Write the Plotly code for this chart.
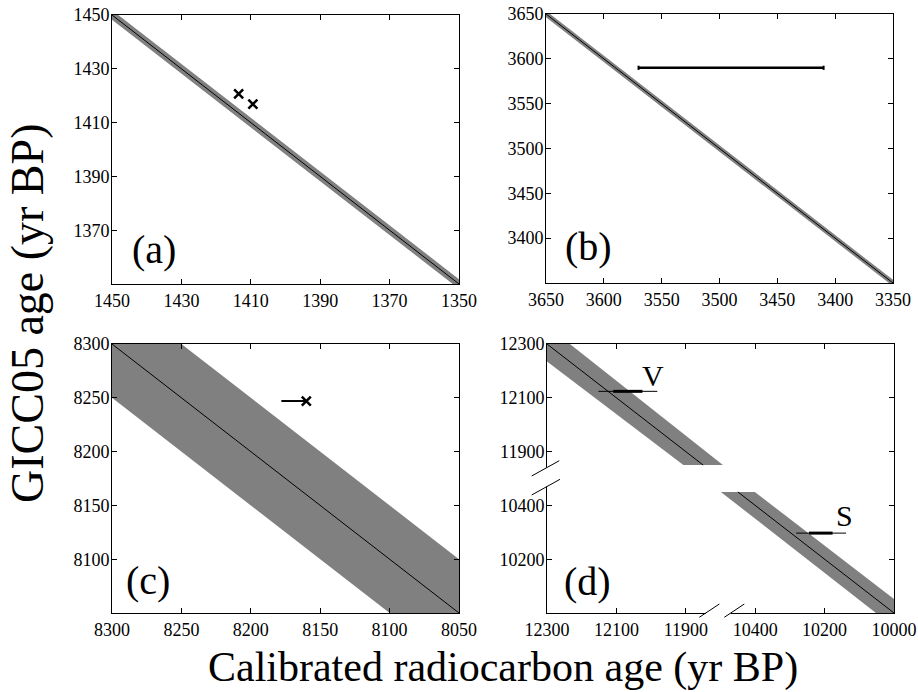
import plotly.graph_objects as go

# ---------------- data ----------------
# Panel (a)
a_band_age = [1450, 1350]
a_band_err = [1.8, 1.8]
a_pts_x = [1413.5, 1409.4]
a_pts_y = [1420.7, 1416.9]
a_xticks = [1450, 1430, 1410, 1390, 1370, 1350]
a_yticks = [1370, 1390, 1410, 1430, 1450]

# Panel (b)
b_band_age = [3650, 3350]
b_band_err = [3.5, 3.5]
b_bar_x = [3570, 3410]
b_bar_y = [3590, 3590]
b_xticks = [3650, 3600, 3550, 3500, 3450, 3400, 3350]
b_yticks = [3400, 3450, 3500, 3550, 3600, 3650]

# Panel (c)
c_band_age = [8300, 8050]
c_band_err = [50, 50]
c_arrow_x = [8178, 8160]
c_arrow_y = [8247, 8247]
c_xticks = [8300, 8250, 8200, 8150, 8100, 8050]
c_yticks = [8100, 8150, 8200, 8250, 8300]

# Panel (d)  (broken axes: 12300-11800 | 10500-10000)
d_band1_age = [12300, 11850]
d_band1_err = [66, 57]
d_band2_age = [10450, 10000]
d_band2_err = [49, 52]
d_V_y = [12124, 12124]
d_V_thin = [12152, 11982]
d_V_thick = [12109, 12025]
d_S_y = [10297, 10297]
d_S_thin = [10282, 10138]
d_S_thick = [10245, 10177]
d_xticks = [12300, 12100, 11900, 10400, 10200, 10000]
d_yticks = [10200, 10400, 11900, 12100, 12300]
d_break_lo, d_break_hi = 10500, 11800

# ---------------- helpers ----------------
def brk(v):
    return v if v <= d_break_lo else v - (d_break_hi - d_break_lo)

def band(ages, errs, f=lambda v: v):
    xs = [f(a + e) for a, e in zip(ages, errs)] + [f(a - e) for a, e in zip(ages[::-1], errs[::-1])]
    ys = [f(a) for a in ages] + [f(a) for a in ages[::-1]]
    return xs + [xs[0]], ys + [ys[0]]

GRAY = "#808080"
FONT = "Liberation Serif"
fig = go.Figure()

def add_band(ages, errs, xa, ya, f=lambda v: v):
    bx, by = band(ages, errs, f)
    fig.add_trace(go.Scatter(x=bx, y=by, fill="toself", fillcolor=GRAY, mode="lines",
                             line=dict(width=0, color=GRAY), xaxis=xa, yaxis=ya, hoverinfo="skip"))
    fig.add_trace(go.Scatter(x=[f(a) for a in ages], y=[f(a) for a in ages], mode="lines",
                             line=dict(width=1, color="black"), xaxis=xa, yaxis=ya))

# (a)
add_band(a_band_age, a_band_err, "x", "y")
fig.add_trace(go.Scatter(x=a_pts_x, y=a_pts_y, mode="markers",
                         marker=dict(symbol="x-thin", size=9, line=dict(width=2.5, color="black")),
                         xaxis="x", yaxis="y"))
# (b)
add_band(b_band_age, b_band_err, "x2", "y2")
fig.add_trace(go.Scatter(x=b_bar_x, y=b_bar_y, mode="lines+markers",
                         line=dict(width=2.5, color="black"),
                         marker=dict(symbol="line-ns", size=3, line=dict(width=2, color="black")),
                         xaxis="x2", yaxis="y2"))
# (c)
add_band(c_band_age, c_band_err, "x3", "y3")
fig.add_trace(go.Scatter(x=c_arrow_x, y=c_arrow_y, mode="lines",
                         line=dict(width=2, color="black"), xaxis="x3", yaxis="y3"))
fig.add_trace(go.Scatter(x=c_arrow_x[-1:], y=c_arrow_y[-1:], mode="markers",
                         marker=dict(symbol="x-thin", size=9, line=dict(width=2.5, color="black")),
                         xaxis="x3", yaxis="y3"))
# (d)
add_band(d_band1_age, d_band1_err, "x4", "y4", brk)
add_band(d_band2_age, d_band2_err, "x4", "y4", brk)
for yv, thin, thick in [(d_V_y, d_V_thin, d_V_thick), (d_S_y, d_S_thin, d_S_thick)]:
    fig.add_trace(go.Scatter(x=[brk(v) for v in thin], y=[brk(v) for v in yv], mode="lines",
                             line=dict(width=1, color="black"), xaxis="x4", yaxis="y4"))
    fig.add_trace(go.Scatter(x=[brk(v) for v in thick], y=[brk(v) for v in yv], mode="lines",
                             line=dict(width=3, color="black"), xaxis="x4", yaxis="y4"))

# ---------------- axes ----------------
def ax(domain, rng, ticks, anchor, f=lambda v: v, standoff=0):
    return dict(domain=domain, range=[f(rng[0]), f(rng[1])], tickvals=[f(t) for t in ticks],
                ticktext=[str(t) for t in ticks], anchor=anchor, automargin=False,
                ticklabeloverflow="allow",
                showline=True, linecolor="black", linewidth=1, mirror="ticks",
                ticks="inside", ticklen=5, tickwidth=1, tickcolor="black",
                showgrid=False, zeroline=False, ticklabelstandoff=standoff,
                tickfont=dict(family=FONT, size=18, color="black"))

W, H = 918, 692

def PX(p):
    return p / W

def PY(p):
    return (H - p) / H

xa_dom = [PX(112), PX(459)]
xb_dom = [PX(546), PX(893)]
xd_dom = [PX(547), PX(894)]
top_a = [PY(284), PY(15)]
top_b = [PY(283), PY(14)]
bot = [PY(613), PY(344)]

XS, YS = 0, -2
fig.update_layout(
    template="none",
    width=W, height=H, margin=dict(l=0, r=0, t=0, b=0, pad=0, autoexpand=False),
    paper_bgcolor="white", plot_bgcolor="white", showlegend=False,
    font=dict(family=FONT, color="black"),
    xaxis=ax(xa_dom, [1450, 1350], a_xticks, "y", standoff=XS),
    yaxis=ax(top_a, [1350, 1450], a_yticks, "x", standoff=YS),
    xaxis2=ax(xb_dom, [3650, 3350], b_xticks, "y2", standoff=XS),
    yaxis2=ax(top_b, [3350, 3650], b_yticks, "x2", standoff=YS),
    xaxis3=ax(xa_dom, [8300, 8050], c_xticks, "y3", standoff=XS),
    yaxis3=ax(bot, [8050, 8300], c_yticks, "x3", standoff=YS),
    xaxis4=ax(xd_dom, [12300, 10000], d_xticks, "y4", brk, standoff=XS),
    yaxis4=ax(bot, [10000, 12300], d_yticks, "x4", brk, standoff=YS),
)

# broken-axis decorations for (d)
shapes = [
    dict(type="line", xref="x4 domain", yref="y4 domain", x0=0, x1=0, y0=0.470, y1=0.541,
         line=dict(color="white", width=3), layer="above"),
    dict(type="line", xref="x4 domain", yref="y4 domain", x0=0.4576, x1=0.5297, y0=0, y1=0,
         line=dict(color="white", width=3), layer="above"),
    dict(type="line", xref="x4 domain", yref="y4 domain", x0=-0.0441, y0=0.5093, x1=0.0354, y1=0.5662,
         line=dict(color="black", width=1), layer="above"),
    dict(type="line", xref="x4 domain", yref="y4 domain", x0=-0.0441, y0=0.4387, x1=0.0375, y1=0.4970,
         line=dict(color="black", width=1), layer="above"),
    dict(type="line", xref="x4 domain", yref="y4 domain", x0=0.4389, y0=-0.016, x1=0.4968, y1=0.0335,
         line=dict(color="black", width=1), layer="above"),
    dict(type="line", xref="x4 domain", yref="y4 domain", x0=0.5110, y0=-0.016, x1=0.5686, y1=0.0335,
         line=dict(color="black", width=1), layer="above"),
]
fig.update_layout(shapes=shapes)

def px_ann(text, x, y, size, angle=0):
    return dict(text=text, x=PX(x), y=PY(y), xref="paper", yref="paper", showarrow=False,
                textangle=angle, xanchor="center", yanchor="middle",
                font=dict(family=FONT, size=size, color="black"))

anns = [
    px_ann("(a)", 153.5, 250, 40),
    px_ann("(b)", 588.3, 246.7, 40),
    px_ann("(c)", 147.5, 580.5, 40),
    px_ann("(d)", 587.3, 581.5, 40),
    px_ann("GICC05 age (yr BP)", 27, 314, 46, -90),
    px_ann("Calibrated radiocarbon age (yr BP)", 503, 667, 42),
    dict(text="V", x=brk(11994), y=brk(12184), xref="x4", yref="y4", showarrow=False,
         xanchor="center", yanchor="middle", font=dict(family=FONT, size=30, color="black")),
    dict(text="S", x=brk(10144), y=brk(10363), xref="x4", yref="y4", showarrow=False,
         xanchor="center", yanchor="middle", font=dict(family=FONT, size=30, color="black")),
]
fig.update_layout(annotations=anns)

# remove the browser's default 8px body margin so the figure fills the window
fig.write_html("out.html", config={"displayModeBar": False},
               post_script="document.body.style.margin='0';")
